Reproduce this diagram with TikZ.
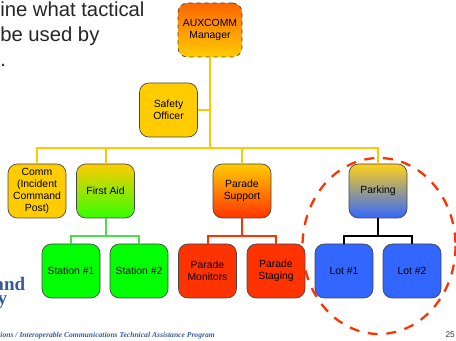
\documentclass[tikz,border=0pt]{standalone}
\usepackage{xcolor}
\usepackage{fontspec}
\setmainfont{Liberation Sans}
\newfontfamily\logofont{Liberation Serif}
\usepackage{tikz}

\definecolor{orgorange}{RGB}{255,102,0}
\definecolor{orgyellow}{RGB}{255,204,0}
\definecolor{orggreen}{RGB}{0,255,0}
\definecolor{orgred}{RGB}{255,51,0}
\definecolor{orgblue}{RGB}{51,102,255}
\definecolor{orgedge}{RGB}{70,70,70}
\definecolor{linkgreen}{RGB}{80,220,80}
\definecolor{logoblue}{RGB}{55,90,155}

\tikzset{
    orgbox/.style={draw=orgedge, line width=0.5pt, rounded corners=7pt, minimum width=43.5pt, minimum height=40.5pt, inner sep=0pt, align=center, font=\fontsize{7.8}{9.1}\selectfont},
    yellowlink/.style={draw=orgyellow!95!orange, line width=1.5pt},
    greenlink/.style={draw=linkgreen, line width=1.5pt},
    redlink/.style={draw=orgred, line width=1.5pt},
    blacklink/.style={draw=black, line width=1.5pt},
    headline/.style={anchor=base west, inner sep=0pt, font=\fontsize{15.2}{18}\selectfont, text=black!85}
}

\begin{document}
\begin{tikzpicture}[x=0.75pt,y=0.75pt,yscale=-1,xscale=1]
        \useasboundingbox (0,0) rectangle (456,341);

        % slide text, cut at the left edge
        \draw (0,17) node (lineone) [headline] {ine what tactical};
        \draw (0,42) node (linetwo) [headline] {be used by};
        \draw (0,67) node (linethree) [headline] {.};

        % boxes
        \draw (210,30) node (manager) [orgbox, dashed, top color=orgorange, bottom color=orgyellow, minimum width=48pt] {AUXCOMM\\Manager};
        \draw (168.5,110) node (safety) [orgbox, fill=orgyellow] {Safety\\Officer};
        \draw (37,191) node (comm) [orgbox, fill=orgyellow] {Comm\\(Incident\\Command\\Post)};
        \draw (105.5,191) node (firstaid) [orgbox, top color=orgyellow, bottom color=orggreen!80!yellow] {First Aid};
        \draw (242,191) node (support) [orgbox, top color=orgyellow, bottom color=orgred] {Parade\\Support};
        \draw (378,191) node (parking) [orgbox, top color=orgyellow!90!white, bottom color=orgblue] {Parking};
        \draw (71,271) node (stationone) [orgbox, fill=orggreen] {Station \#1};
        \draw (139,271) node (stationtwo) [orgbox, fill=orggreen] {Station \#2};
        \draw (207.5,271) node (monitors) [orgbox, fill=orgred] {Parade\\Monitors};
        \draw (276,271) node (staging) [orgbox, fill=orgred] {Parade\\Staging};
        \draw (344,271) node (lotone) [orgbox, fill=orgblue] {Lot \#1};
        \draw (412,271) node (lottwo) [orgbox, fill=orgblue] {Lot \#2};

        % links
        \coordinate (topbus) at (210,148);
        \coordinate (greenbus) at (105.5,236.5);
        \coordinate (redbus) at (242,236.5);
        \coordinate (blackbus) at (378,236.5);

        \draw [yellowlink] (manager.south) -- (topbus);
        \draw [yellowlink] (safety.east) -- (safety.east -| manager.south);
        \draw [yellowlink] (comm.north) |- (topbus);
        \draw [yellowlink] (firstaid.north) |- (topbus);
        \draw [yellowlink] (support.north) |- (topbus);
        \draw [yellowlink] (parking.north) |- (topbus);

        \draw [greenlink] (firstaid.south) -- (greenbus);
        \draw [greenlink] (stationone.north) |- (greenbus);
        \draw [greenlink] (stationtwo.north) |- (greenbus);

        \draw [redlink] (support.south) -- (redbus);
        \draw [redlink] (monitors.north) |- (redbus);
        \draw [redlink] (staging.north) |- (redbus);

        \draw [blacklink] (parking.south) -- (blackbus);
        \draw [blacklink] (lotone.north) |- (blackbus);
        \draw [blacklink] (lottwo.north) |- (blackbus);

        % ring round the parking group
        \draw [orgred, line width=1.7pt, dash pattern=on 7.5pt off 6.5pt] (379,246) ellipse (76.5 and 88);

        % logo and footer, cut at the left edge
        \draw (25.5,291) node (logoand) [anchor=base east, inner sep=0pt, text=logoblue, font=\logofont\bfseries\fontsize{14.3}{15}\selectfont] {and};
        \draw (7.5,305) node (logoy) [anchor=base east, inner sep=0pt, text=logoblue, font=\logofont\bfseries\fontsize{14.3}{15}\selectfont] {y};
        \draw (215,338) node (footer) [anchor=base east, inner sep=0pt, text=logoblue, font=\logofont\bfseries\itshape\fontsize{5.7}{6}\selectfont] {tions / Interoperable Communications Technical Assistance Program};
        \draw (455,338) node (pagenum) [anchor=base east, inner sep=0pt, text=black!80, font=\fontsize{6.2}{7}\selectfont] {25};
\end{tikzpicture}
\end{document}
